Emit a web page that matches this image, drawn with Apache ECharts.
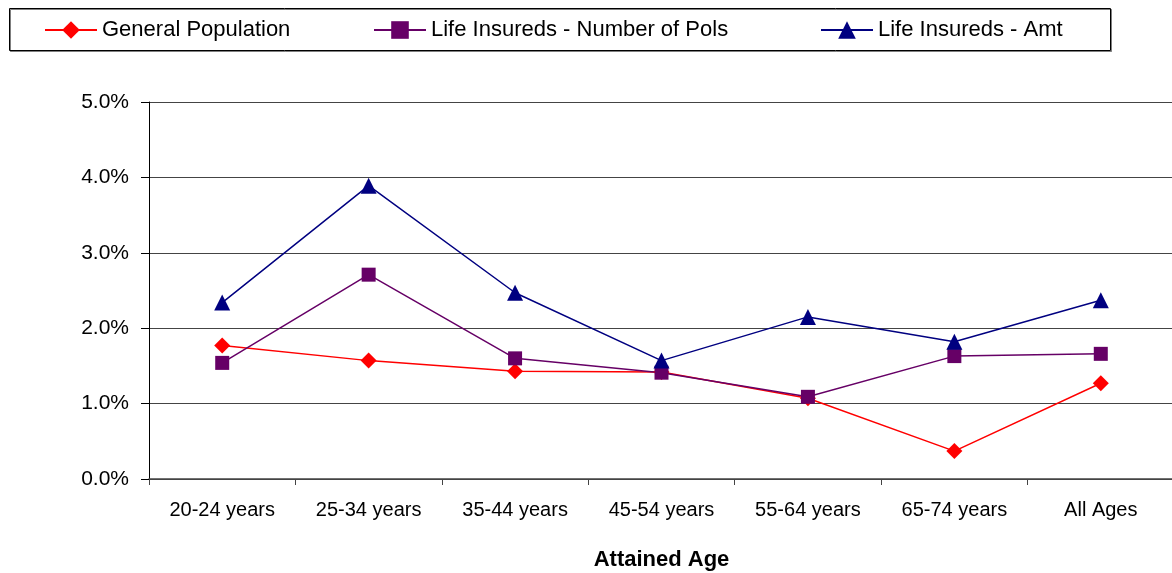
<!DOCTYPE html>
<html>
<head>
<meta charset="utf-8">
<script src="https://cdn.jsdelivr.net/npm/echarts@6/dist/echarts.min.js"></script>
<style>
html,body{margin:0;padding:0;background:#fff;overflow:hidden;}
#chart{width:1172px;height:573px;}
</style>
</head>
<body>
<div id="chart"></div>
<script>
const categories = ['20-24 years','25-34 years','35-44 years','45-54 years','55-64 years','65-74 years','All Ages'];
const seriesNames = ['General Population','Life Insureds - Number of Pols','Life Insureds - Amt'];
const generalPopulation = [1.77, 1.57, 1.43, 1.42, 1.07, 0.37, 1.27];
const numberOfPols = [1.54, 2.71, 1.60, 1.41, 1.09, 1.63, 1.66];
const amount = [2.34, 3.89, 2.47, 1.57, 2.15, 1.82, 2.37];
const yTicks = [0, 1, 2, 3, 4, 5];

const FONT = '"Liberation Sans", Arial, sans-serif';
const chart = echarts.init(document.getElementById('chart'), null, {width: 1172, height: 573});

function legendFor(name, left) {
  return {
    data: [name], left: left, top: 19, padding: 0,
    itemWidth: 52, itemHeight: 22, selectedMode: false,
    textStyle: {fontFamily: FONT, fontSize: 22, color: '#000'}
  };
}

chart.setOption({
  animation: false,
  graphic: [{
    type: 'rect', shape: {x: 9.5, y: 8.5, width: 1101, height: 42},
    style: {fill: 'none', stroke: '#000', lineWidth: 1, shadowBlur: 0, shadowOffsetX: 1, shadowOffsetY: 1, shadowColor: 'rgba(0,0,0,0.5)'},
    z: -1
  }],
  legend: [legendFor(seriesNames[0], 44), legendFor(seriesNames[1], 373), legendFor(seriesNames[2], 820)],
  grid: {left: 149, top: 102, width: 1025, height: 377, containLabel: false, outerBoundsMode: 'none'},
  xAxis: {
    type: 'category', data: categories, boundaryGap: true,
    name: 'Attained Age', nameLocation: 'middle', nameGap: 70,
    nameTextStyle: {fontFamily: FONT, fontSize: 22, fontWeight: 'bold', color: '#000'},
    axisLine: {lineStyle: {color: '#444', width: 1.5}},
    axisTick: {show: true, length: 6, inside: false, lineStyle: {color: '#444'}},
    axisLabel: {fontFamily: FONT, fontSize: 20, color: '#000', margin: 21, interval: 0}
  },
  yAxis: {
    type: 'value', min: yTicks[0], max: yTicks[yTicks.length - 1], interval: 1,
    axisLine: {show: true, lineStyle: {color: '#000', width: 1}},
    axisTick: {show: true, length: 8, lineStyle: {color: '#000'}},
    axisLabel: {fontFamily: FONT, fontSize: 21, color: '#000', margin: 20,
      formatter: v => v.toFixed(1) + '%'},
    splitLine: {show: true, lineStyle: {color: '#444', width: 1}}
  },
  series: [
    {name: seriesNames[0], type: 'line', data: generalPopulation, symbol: 'diamond', symbolSize: 16,
      itemStyle: {color: '#FF0000'}, lineStyle: {color: '#FF0000', width: 1.5}, emphasis: {disabled: true}},
    {name: seriesNames[1], type: 'line', data: numberOfPols, symbol: 'rect', symbolSize: 14,
      itemStyle: {color: '#660066'}, lineStyle: {color: '#660066', width: 1.5}, emphasis: {disabled: true}},
    {name: seriesNames[2], type: 'line', data: amount, symbol: 'triangle', symbolSize: 16,
      itemStyle: {color: '#000080'}, lineStyle: {color: '#000080', width: 1.5}, emphasis: {disabled: true}}
  ]
});
</script>
</body>
</html>
